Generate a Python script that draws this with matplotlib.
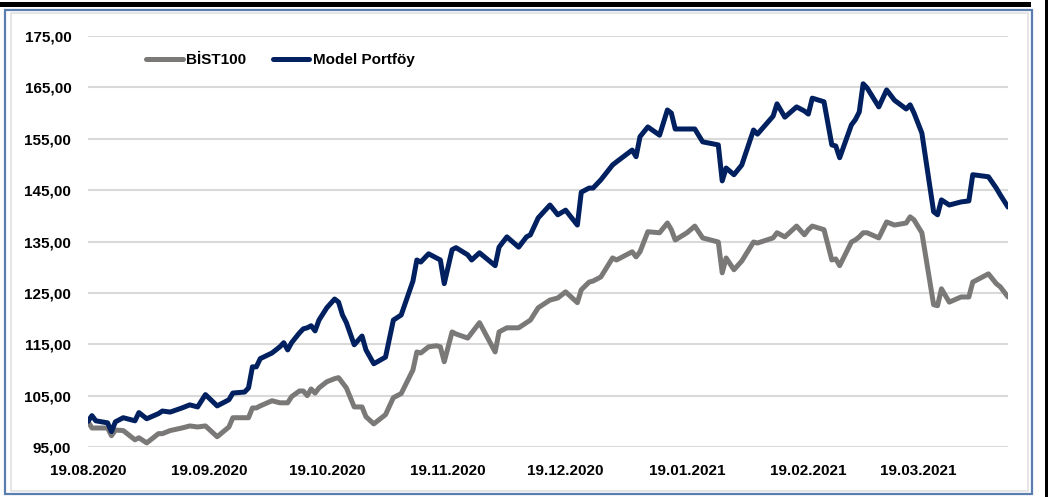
import pandas as pd
import matplotlib
matplotlib.use("Agg")
import matplotlib.pyplot as plt
import matplotlib.dates as mdates
from matplotlib.patches import Rectangle
from matplotlib.lines import Line2D

plt.rcParams['font.family'] = ['Liberation Sans', 'DejaVu Sans']
plt.rcParams['font.weight'] = 'bold'

# values (index, 19.08.2020 = 100)
dates = [
    "2020-08-19", "2020-08-20", "2020-08-21", "2020-08-24", "2020-08-25", "2020-08-26",
    "2020-08-28", "2020-08-30", "2020-08-31", "2020-09-01", "2020-09-03", "2020-09-06",
    "2020-09-07", "2020-09-09", "2020-09-12", "2020-09-14", "2020-09-16", "2020-09-18",
    "2020-09-21", "2020-09-24", "2020-09-25", "2020-09-28", "2020-09-29", "2020-09-30",
    "2020-10-01", "2020-10-02", "2020-10-05", "2020-10-07", "2020-10-08", "2020-10-09",
    "2020-10-10", "2020-10-12", "2020-10-13", "2020-10-14", "2020-10-15", "2020-10-16",
    "2020-10-17", "2020-10-19", "2020-10-21", "2020-10-22", "2020-10-23", "2020-10-24",
    "2020-10-26", "2020-10-28", "2020-10-29", "2020-10-31", "2020-11-03", "2020-11-05",
    "2020-11-07", "2020-11-10", "2020-11-11", "2020-11-12", "2020-11-14", "2020-11-16",
    "2020-11-17", "2020-11-18", "2020-11-20", "2020-11-21", "2020-11-24", "2020-11-25",
    "2020-11-27", "2020-12-01", "2020-12-02", "2020-12-04", "2020-12-07", "2020-12-09",
    "2020-12-10", "2020-12-12", "2020-12-15", "2020-12-17", "2020-12-19", "2020-12-22",
    "2020-12-23", "2020-12-25", "2020-12-26", "2020-12-28", "2020-12-31", "2021-01-01",
    "2021-01-05", "2021-01-06", "2021-01-07", "2021-01-09", "2021-01-12", "2021-01-14",
    "2021-01-15", "2021-01-16", "2021-01-19", "2021-01-21", "2021-01-23", "2021-01-27",
    "2021-01-28", "2021-01-29", "2021-01-31", "2021-02-02", "2021-02-05", "2021-02-06",
    "2021-02-10", "2021-02-11", "2021-02-13", "2021-02-16", "2021-02-18", "2021-02-19",
    "2021-02-20", "2021-02-23", "2021-02-25", "2021-02-26", "2021-02-27", "2021-03-02",
    "2021-03-03", "2021-03-04", "2021-03-05", "2021-03-06", "2021-03-09", "2021-03-11",
    "2021-03-13", "2021-03-16", "2021-03-17", "2021-03-18", "2021-03-20", "2021-03-23",
    "2021-03-24", "2021-03-25", "2021-03-27", "2021-03-30", "2021-04-01", "2021-04-02",
    "2021-04-06", "2021-04-08", "2021-04-09", "2021-04-11",
]

model = [
    100.0, 101.1, 100.1, 99.7, 98.0, 99.9, 100.7, 100.3, 100.1, 101.7, 100.5, 101.5,
    102.0, 101.8, 102.6, 103.2, 102.8, 105.2, 103.0, 104.2, 105.5, 105.7, 106.5, 110.6,
    110.6, 112.2, 113.3, 114.5, 115.3, 113.9, 115.3, 117.2, 118.0, 118.2, 118.6, 117.6,
    119.7, 122.1, 123.8, 123.2, 120.7, 119.2, 114.9, 116.6, 113.9, 111.2, 112.5, 119.7,
    120.7, 127.3, 131.4, 131.0, 132.6, 131.8, 131.4, 126.8, 133.4, 133.8, 132.4, 131.4,
    132.8, 130.3, 133.9, 135.9, 133.9, 135.9, 136.3, 139.6, 142.1, 140.2, 141.1, 138.2,
    144.6, 145.4, 145.4, 147.0, 149.9, 150.5, 152.8, 151.5, 155.4, 157.3, 155.7, 160.6,
    160.0, 156.9, 156.9, 156.9, 154.4, 153.8, 146.8, 149.3, 148.0, 149.9, 156.7, 155.9,
    159.4, 161.8, 159.2, 161.2, 160.4, 159.8, 162.9, 162.2, 153.8, 153.6, 151.3, 157.7,
    158.7, 160.2, 165.7, 164.9, 161.2, 164.5, 162.5, 160.8, 161.6, 160.0, 156.1, 140.8,
    140.2, 143.1, 142.1, 142.7, 142.9, 148.0, 147.6, 145.4, 144.1, 141.7,
]

bist100 = [
    100.0, 98.7, 98.7, 98.7, 97.2, 98.3, 98.2, 97.0, 96.4, 96.8, 95.8, 97.6,
    97.6, 98.2, 98.7, 99.1, 98.9, 99.1, 97.0, 98.9, 100.7, 100.7, 100.7, 102.6,
    102.6, 103.0, 104.0, 103.6, 103.6, 103.6, 104.8, 105.9, 105.9, 105.0, 106.3, 105.5,
    106.5, 107.7, 108.3, 108.5, 107.5, 106.5, 102.8, 102.8, 100.9, 99.5, 101.3, 104.6,
    105.4, 110.0, 113.5, 113.3, 114.5, 114.7, 114.5, 111.6, 117.4, 117.0, 116.2, 117.2,
    119.2, 113.5, 117.4, 118.2, 118.2, 119.2, 119.7, 122.1, 123.6, 124.0, 125.2, 123.1,
    125.6, 127.1, 127.3, 128.1, 131.8, 131.4, 133.0, 132.0, 133.0, 136.9, 136.7, 138.6,
    137.3, 135.3, 136.7, 138.0, 135.7, 134.9, 128.9, 131.8, 129.5, 131.2, 134.9, 134.7,
    135.7, 136.7, 135.9, 138.0, 136.3, 137.3, 138.0, 137.3, 131.4, 131.6, 130.3, 134.9,
    135.3, 135.9, 136.7, 136.7, 135.7, 138.8, 138.2, 138.6, 139.8, 139.2, 136.7, 122.7,
    122.5, 125.8, 123.2, 124.2, 124.2, 127.1, 128.7, 126.8, 126.2, 124.2,
]

tick_dates = ["2020-08-19", "2020-09-19", "2020-10-19", "2020-11-19",
              "2020-12-19", "2021-01-19", "2021-02-19", "2021-03-19"]
y_ticks = [95, 105, 115, 125, 135, 145, 155, 165, 175]

x = pd.to_datetime(dates)
navy = '#002060'
grey = '#7b7878'
lw = 3.6

fig = plt.figure(figsize=(10.49, 4.97), dpi=100)
ax = fig.add_axes([88 / 1049, 50 / 497, 920 / 1049, 411 / 497])

for v in y_ticks:
    ax.axhline(v, color='#d9d9d9', lw=1.5, zorder=0)

ax.plot(x, bist100, color=grey, lw=lw, solid_joinstyle='round', solid_capstyle='round')
ax.plot(x, model, color=navy, lw=lw, solid_joinstyle='round', solid_capstyle='round')

ax.set_ylim(95, 175)
ax.set_xlim(pd.Timestamp("2020-08-19"), pd.Timestamp("2021-04-11"))
ax.set_yticks(y_ticks)
ax.set_yticklabels([f"{v:.2f}".replace('.', ',') for v in y_ticks])
ax.set_xticks(pd.to_datetime(tick_dates))
ax.xaxis.set_major_formatter(mdates.DateFormatter('%d.%m.%Y'))
ax.tick_params(length=0, labelsize=11)
ax.tick_params(axis='y', pad=12)
ax.tick_params(axis='x', pad=12)
for s in ax.spines.values():
    s.set_visible(False)
ax.patch.set_visible(False)

handles = [Line2D([], [], color=grey, lw=lw, solid_capstyle='round'),
           Line2D([], [], color=navy, lw=lw, solid_capstyle='round')]
ax.legend(handles, ['BİST100', 'Model Portföy'], ncol=2, frameon=False,
          loc='center left', bbox_to_anchor=((146 - 88) / 920, (447 - 60) / 411),
          borderpad=0, borderaxespad=0, handlelength=2.4, handletextpad=0.25,
          columnspacing=1.7, prop={'size': 11, 'weight': 'bold'})

# frame around the chart
W, H = 1049, 497
fig.patches.append(Rectangle((0, (H - 7) / H), 1031 / W, 5 / H, transform=fig.transFigure,
                             color='black', lw=0))
fig.patches.append(Rectangle((1045 / W, 0), 2.5 / W, 1, transform=fig.transFigure,
                             color='black', lw=0))
fig.patches.append(Rectangle((5 / W, 3 / H), 1027 / W, 484 / H, transform=fig.transFigure,
                             fill=False, ec='#5a7fae', lw=1.6))
fig.patches.append(Rectangle((11 / W, 6 / H), 1017 / W, 478 / H, transform=fig.transFigure,
                             fill=False, ec='#e0e0e0', lw=1.2))

fig.savefig('out.png', dpi=100)
